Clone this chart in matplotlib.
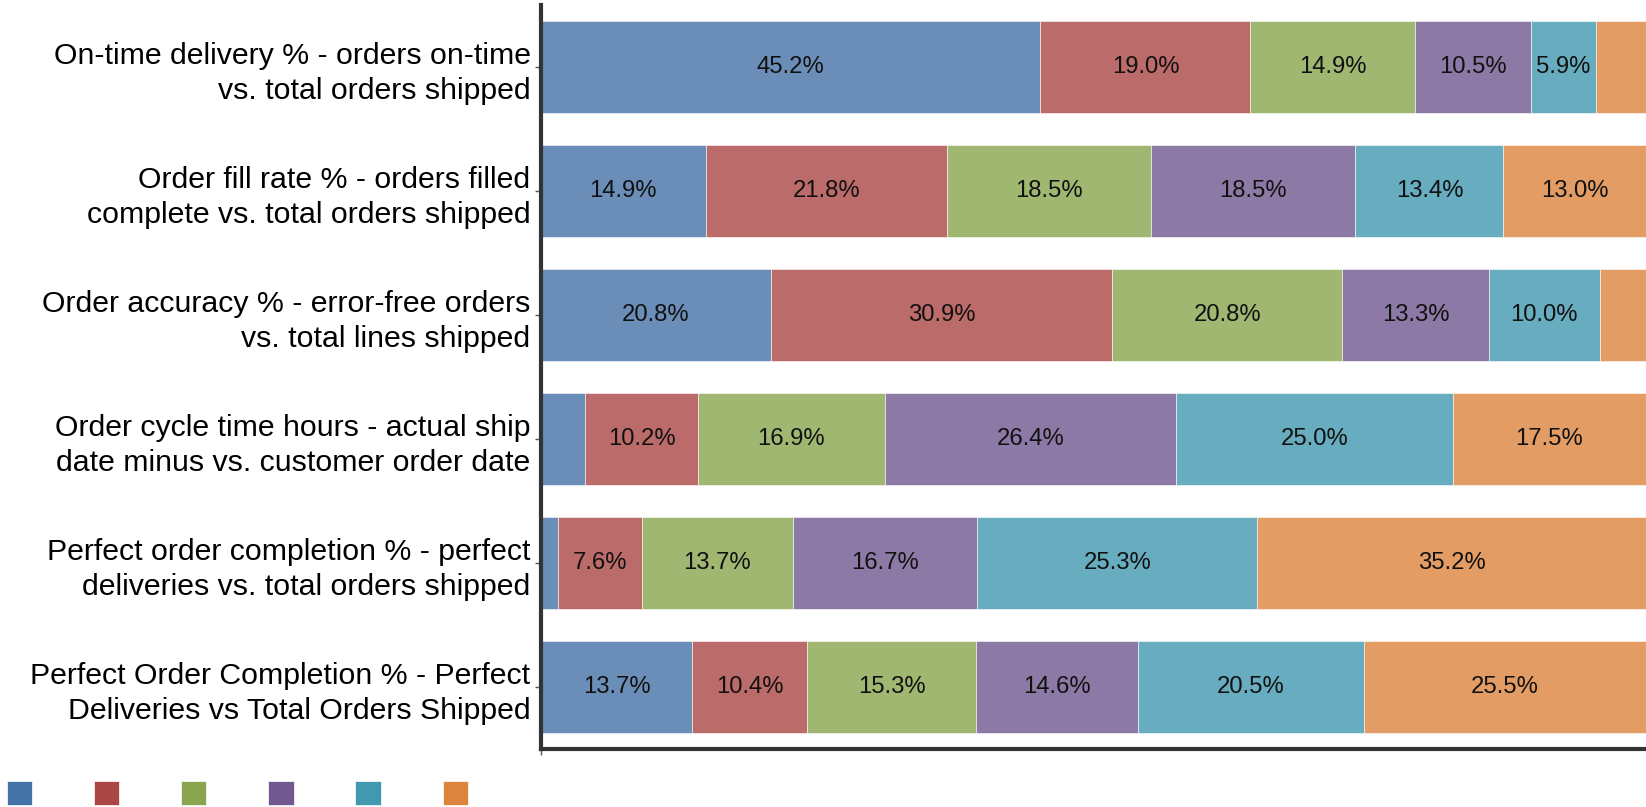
import numpy as np
import matplotlib.pyplot as plt
from matplotlib.patches import Patch

plt.rcParams['font.family'] = ['Liberation Sans', 'DejaVu Sans']

categories = [
    "On-time delivery % - orders on-time\nvs. total orders shipped",
    "Order fill rate % - orders filled\ncomplete vs. total orders shipped",
    "Order accuracy % - error-free orders\nvs. total lines shipped",
    "Order cycle time hours - actual ship\ndate minus vs. customer order date",
    "Perfect order completion % - perfect\ndeliveries vs. total orders shipped",
    "Perfect Order Completion % - Perfect\nDeliveries vs Total Orders Shipped",
]

# one list per stacked segment, values in percent
seg1 = [45.2, 14.9, 20.8, 4.0, 1.5, 13.7]
seg2 = [19.0, 21.8, 30.9, 10.2, 7.6, 10.4]
seg3 = [14.9, 18.5, 20.8, 16.9, 13.7, 15.3]
seg4 = [10.5, 18.5, 13.3, 26.4, 16.7, 14.6]
seg5 = [5.9, 13.4, 10.0, 25.0, 25.3, 20.5]
seg6 = [4.5, 13.0, 4.2, 17.5, 35.2, 25.5]

colors = ['#4572A7', '#AA4643', '#89A54E', '#71588F', '#4198AF', '#DB843D']

fig = plt.figure(figsize=(16.46, 8.07), dpi=100)
ax = fig.add_axes([0.3287, 0.0719, 0.6713, 0.9219])

y = np.arange(len(categories))
left = np.zeros(len(categories))
for vals, col in zip([seg1, seg2, seg3, seg4, seg5, seg6], colors):
    vals = np.array(vals)
    bars = ax.barh(y, vals, left=left, height=0.74, color=col, alpha=0.8,
                   edgecolor='white', linewidth=0.5)
    for b, v in zip(bars, vals):
        if v >= 5:
            ax.text(b.get_x() + b.get_width() / 2, b.get_y() + b.get_height() / 2,
                    f"{v:.1f}%", ha='center', va='center', fontsize=17.2, color='#111111')
    left += vals

ax.set_xlim(0, 100)
ax.set_ylim(len(categories) - 0.5, -0.5)
ax.set_yticks(y)
ax.set_yticklabels(categories, fontsize=21.8, color='black', linespacing=1.32)
ax.set_xticks([0])
ax.set_xticklabels([''])
ax.tick_params(axis='y', length=4, width=1, color='#555555', pad=3.5)
ax.tick_params(axis='x', length=4, width=1, color='#555555')

for s in ['top', 'right']:
    ax.spines[s].set_visible(False)
for s in ['left', 'bottom']:
    ax.spines[s].set_linewidth(3)
    ax.spines[s].set_color('#333333')

handles = [Patch(facecolor=c, edgecolor='white', linewidth=0.5) for c in colors]
fig.legend(handles, [''] * len(colors), loc='lower left', bbox_to_anchor=(0.0027, 0.0),
           ncol=6, frameon=False, fontsize=10, handlelength=1.83, handleheight=2.28,
           handletextpad=0, columnspacing=4.45, borderpad=0.15, borderaxespad=0)

fig.savefig('out.png', dpi=100)
